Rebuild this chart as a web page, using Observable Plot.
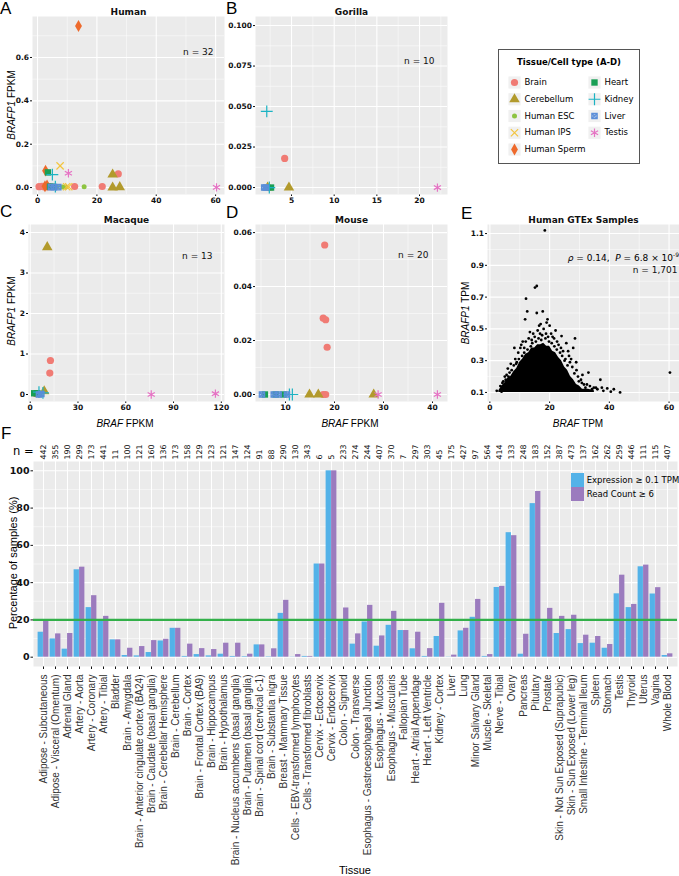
<!DOCTYPE html>
<html><head><meta charset="utf-8">
<script src="https://cdn.jsdelivr.net/npm/d3@7"></script>
<script src="https://cdn.jsdelivr.net/npm/@observablehq/plot@0.6"></script>
<style>
body{margin:0;background:#fff;}
#fig{position:relative;width:679px;height:876px;overflow:hidden;font-family:"DejaVu Sans",sans-serif;color:#000;}
.abs{position:absolute;white-space:nowrap;line-height:1;}
.letter{font-family:"Liberation Sans",Arial,sans-serif;font-size:17px;}
.ytitle{transform:translate(-50%,-50%) rotate(-90deg);font-family:"Liberation Sans",Arial,sans-serif;font-size:10px;}
.xtitle{transform:translate(-50%,-50%);font-family:"Liberation Sans",Arial,sans-serif;font-size:10px;}
.leg{position:absolute;left:498px;top:49px;width:142px;height:115px;border:1px solid #555;box-sizing:border-box;background:#fff;}
</style></head><body><div id="fig"></div>
<script>
// ---------------- Panels A-D ----------------
const tissueTypes = ["Brain","Cerebellum","Human ESC","Human IPS","Human Sperm","Heart","Kidney","Liver","Testis"];
const typeColors  = ["#F07B74","#B29A2C","#8DC441","#F3C53F","#EE6A2C","#199F55","#1BB3C3","#5B8ED8","#E673C4"];

const humanPoints = [
 ["Brain",0.5,0.004],["Brain",1.5,0.006],["Brain",2.2,0.003],["Brain",3.0,0.008],["Brain",4.0,0.004],["Brain",12.5,0.005],["Brain",21.8,0.005],["Brain",27.2,0.063],
 ["Cerebellum",25.3,0.06],["Cerebellum",25.3,0.0],["Cerebellum",27.7,0.002],
 ["Human ESC",6.5,0.003],["Human ESC",8.5,0.003],["Human ESC",9.5,0.003],["Human ESC",15.7,0.004],
 ["Human IPS",7.6,0.10],["Human IPS",9.8,0.004],["Human IPS",10.5,0.004],
 ["Human Sperm",13.8,0.745],["Human Sperm",2.7,0.078],["Human Sperm",2.5,0.006],["Human Sperm",3.2,0.010],
 ["Heart",3.5,0.07],["Heart",4.2,0.004],["Heart",5.2,0.004],
 ["Kidney",5.0,0.06],["Kidney",6.0,0.004],
 ["Liver",4.5,0.002],["Liver",5.5,0.002],["Liver",7.0,0.002],
 ["Testis",10.4,0.066],["Testis",60.3,0.001]
];
const gorillaPoints = [
 ["Kidney",2.1,0.047],["Brain",4.2,0.018],["Brain",2.3,0.0],["Cerebellum",4.7,0.0],["Cerebellum",2.2,0.0],
 ["Liver",1.8,0.0],["Liver",2.0,0.0],["Kidney",2.4,0.0],["Heart",2.6,0.0],["Testis",22.1,0.0]
];
const macaquePoints = [
 ["Cerebellum",10.7,3.64],["Brain",12.7,0.84],["Brain",12.3,0.53],["Brain",3.5,0.02],
 ["Cerebellum",8.8,0.08],["Heart",2.5,0.03],["Heart",4.5,0.03],["Kidney",5.5,0.06],["Kidney",8.0,0.04],
 ["Liver",5.5,0.0],["Liver",7.0,0.01],["Testis",76.0,0.0],["Testis",116.3,0.02]
];
const mousePoints = [
 ["Brain",18.0,0.0554],["Brain",17.7,0.0283],["Brain",18.2,0.0277],["Brain",18.5,0.0175],
 ["Brain",17.7,0.0],["Brain",18.2,0.0],
 ["Liver",5.2,0.0],["Liver",7.6,0.0],["Liver",8.6,0.0],["Liver",10.3,0.0],
 ["Heart",5.8,0.0],["Heart",8.0,0.0],["Heart",9.6,0.0],
 ["Kidney",10.8,0.0],["Kidney",11.4,0.0],
 ["Cerebellum",14.9,0.0],["Cerebellum",16.7,0.0],["Cerebellum",28.0,0.0],
 ["Testis",28.9,0.0],["Testis",41.0,0.0]
];

// ---------------- Panel E (GTEx) ----------------
const eCoreX   = [3,4,5,6,7,8,9,10,11,12,13,14,15,16,17,18,19,20,21,22,23,24,25,26,27,28,29,30,31,33,35];
const eCoreTop = [0.11,0.14,0.16,0.19,0.20,0.23,0.25,0.29,0.31,0.34,0.35,0.38,0.38,0.40,0.40,0.41,0.39,0.39,0.36,0.35,0.32,0.30,0.26,0.24,0.20,0.18,0.15,0.14,0.12,0.12,0.11];
const eDots = [
 [18.4,1.12],[15.7,0.77],[15.1,0.76],[12.1,0.69],[12.5,0.61],[11.8,0.56],[15.7,0.60],[17.7,0.61],[19.3,0.56],[19.0,0.54],
 [17.0,0.53],[16.5,0.52],[22.0,0.49],[13.4,0.48],[8.2,0.38],[10.2,0.38],[24.0,0.455],[25.6,0.41],[28.5,0.44],[27.9,0.38],
 [27.2,0.31],[28.9,0.29],[33.0,0.225],[37.0,0.18],[34.8,0.13],[32.0,0.13],[39.3,0.125],[43.6,0.10],[60.3,0.225],[2.3,0.11],
 [3.9,0.105],[5.6,0.21],[6.6,0.225],[14.5,0.47],[16.0,0.49],[18.0,0.50],[20.5,0.47],[21.5,0.44],[11.0,0.42],[9.5,0.35],
 [7.0,0.28],[6.0,0.25],[5.0,0.20],[4.5,0.17],[3.5,0.14],[26.5,0.33],[29.5,0.20],[30.5,0.18],[31.5,0.15],[33.5,0.14],
 [36.0,0.12],[38.0,0.11],[40.5,0.105],[13.0,0.44],[15.0,0.45],[17.5,0.46],[19.5,0.45],[23.0,0.40],[24.5,0.36],[10.5,0.40],
 [12.0,0.42],[20.0,0.52],[22.5,0.42],[25.0,0.30],[26.0,0.27],[8.5,0.31],[9.0,0.29],[29.0,0.24],[31.0,0.21],
 [4.2,0.16],[5.3,0.18],[6.2,0.20],[7.3,0.24],[8.0,0.27],[8.8,0.28],[9.7,0.31],[10.8,0.33],[11.5,0.35],[12.6,0.37],
 [13.7,0.39],[14.2,0.41],[15.4,0.42],[16.3,0.44],[17.2,0.43],[18.6,0.44],[19.8,0.42],[20.7,0.41],[21.6,0.39],[22.4,0.37],
 [23.5,0.35],[24.2,0.33],[25.3,0.31],[26.8,0.29],[27.6,0.26],[28.3,0.22],[29.8,0.17],[30.8,0.16],[32.5,0.15],[34.2,0.12],
 [35.5,0.13],[37.5,0.13],[41.5,0.12],[16.8,0.47],[18.8,0.47],[14.0,0.43],[21.0,0.45],[11.5,0.38],[23.8,0.38],[26.2,0.36]
];

// ---------------- Panel F (GTEx tissues) ----------------
const tissues = ["Adipose - Subcutaneous","Adipose - Visceral (Omentum)","Adrenal Gland","Artery - Aorta","Artery - Coronary","Artery - Tibial","Bladder",
 "Brain - Amygdala","Brain - Anterior cingulate cortex (BA24)","Brain - Caudate (basal ganglia)","Brain - Cerebellar Hemisphere","Brain - Cerebellum","Brain - Cortex",
 "Brain - Frontal Cortex (BA9)","Brain - Hippocampus","Brain - Hypothalamus","Brain - Nucleus accumbens (basal ganglia)","Brain - Putamen (basal ganglia)",
 "Brain - Spinal cord (cervical c-1)","Brain - Substantia nigra","Breast - Mammary Tissue","Cells - EBV-transformed lymphocytes","Cells - Transformed fibroblasts",
 "Cervix - Ectocervix","Cervix - Endocervix","Colon - Sigmoid","Colon - Transverse","Esophagus - Gastroesophageal Junction","Esophagus - Mucosa","Esophagus - Muscularis",
 "Fallopian Tube","Heart - Atrial Appendage","Heart - Left Ventricle","Kidney - Cortex","Liver","Lung","Minor Salivary Gland","Muscle - Skeletal","Nerve - Tibial",
 "Ovary","Pancreas","Pituitary","Prostate","Skin - Not Sun Exposed (Suprapubic)","Skin - Sun Exposed (Lower leg)","Small Intestine - Terminal Ileum","Spleen",
 "Stomach","Testis","Thyroid","Uterus","Vagina","Whole Blood"];
const nSamples = [442,355,190,299,173,441,11,100,121,160,136,173,158,129,123,121,147,124,91,88,290,130,343,6,5,233,274,244,407,370,7,297,303,45,175,427,97,564,414,133,248,183,152,387,473,137,162,262,259,446,111,115,407];
const exprPct = [13.4,9.8,4.3,46.9,26.6,20.1,9.3,0.9,0.7,2.5,8.7,15.5,0.4,1.4,0.7,1.6,0.4,0.3,6.6,0.2,23.5,0.1,0.4,50.0,100,20.0,7.0,18.9,5.9,17.1,14.3,4.5,0.4,11.1,0.1,14.1,21.4,0.4,37.4,66.8,1.6,82.4,20.0,12.7,14.8,7.3,7.5,4.8,34.0,26.6,48.5,33.9,0.9];
const readPct = [20.1,12.5,12.7,48.3,33.0,21.9,9.3,4.8,5.7,8.9,9.6,15.5,7.0,4.6,4.1,7.5,7.5,1.6,6.6,4.5,30.5,1.4,0.4,50.0,100,26.4,12.5,27.8,11.4,24.6,14.3,13.4,4.6,28.9,1.1,15.5,31.0,1.4,38.0,65.2,12.3,88.9,26.2,21.9,22.5,11.8,11.1,6.8,44.0,28.3,49.4,37.3,1.8];

// ---------------- helpers ----------------
const squareX = {draw(ctx, size){ const s = Math.sqrt(size)*0.42; ctx.moveTo(-s,-s); ctx.lineTo(s,-s); ctx.lineTo(s,s); ctx.lineTo(-s,s); ctx.closePath(); ctx.moveTo(-s,-s); ctx.lineTo(s,s); ctx.moveTo(s,-s); ctx.lineTo(-s,s);} };
const shapes = {
 "Brain":{symbol:"circle",r:3.6,filled:true},
 "Cerebellum":{symbol:"triangle",r:3.9,filled:true},
 "Human ESC":{symbol:"circle",r:2.5,filled:true},
 "Human IPS":{symbol:"times",r:3.4,filled:false},
 "Human Sperm":{symbol:"diamond",r:3.6,filled:true},
 "Heart":{symbol:"square",r:3.6,filled:true},
 "Kidney":{symbol:"plus",r:3.9,filled:false},
 "Liver":{symbol:squareX,r:3.6,filled:false,fillOpacity:0.55},
 "Testis":{symbol:"asterisk",r:3.9,filled:false}
};
function dotOpts(t, i, extra) {
  const s = shapes[t];
  const base = {symbol: s.symbol, r: s.r};
  if (s.filled) return {...base, fill: typeColors[i], stroke: "none", ...extra};
  return {...base, stroke: typeColors[i], strokeWidth: 1.2, fill: s.fillOpacity ? typeColors[i] : "none", fillOpacity: s.fillOpacity || 1, ...extra};
}
const fig = document.getElementById("fig");
function place(el, left, top) { el.style.position = "absolute"; el.style.left = left + "px"; el.style.top = top + "px"; fig.appendChild(el); return el; }
function html(h, cls, left, top, extraStyle) { const d = document.createElement("div"); d.className = "abs " + (cls||""); d.innerHTML = h; d.style.left = left+"px"; d.style.top = top+"px"; if (extraStyle) d.style.cssText += extraStyle; fig.appendChild(d); return d; }
const axStyle = {background:"transparent", fontFamily:"DejaVu Sans", fontSize:"7.5px", fontWeight:"bold", color:"#111", overflow:"visible"};

function scatter(o) {
  const rows = o.points.map(([type,x,y]) => ({type,x,y}));
  const marks = [
    Plot.frame({fill:"#EBEBEB", stroke:null}),
    Plot.ruleX(o.xMinor, {stroke:"white", strokeWidth:0.5}),
    Plot.ruleY(o.yMinor, {stroke:"white", strokeWidth:0.5}),
    Plot.ruleX(o.xTicks, {stroke:"white", strokeWidth:1.1}),
    Plot.ruleY(o.yTicks, {stroke:"white", strokeWidth:1.1})
  ];
  tissueTypes.forEach((t,i) => {
    const sub = rows.filter(d => d.type === t);
    if (sub.length) marks.push(Plot.dot(sub, dotOpts(t, i, {x:"x", y:"y"})));
  });
  marks.push(Plot.text([o.title], {text:d=>d, frameAnchor:"top", lineAnchor:"bottom", dy:-2, fontWeight:"bold", fontSize:9}));
  if (o.note) marks.push(Plot.text([o.note], {text:d=>d, frameAnchor:"top-right", textAnchor:"end", lineAnchor:"middle", dx:o.noteDx, dy:o.noteDy, fontSize:9, fontWeight:"normal"}));
  return Plot.plot({
    width:o.width, height:o.height, marginLeft:o.ml, marginRight:o.mr, marginTop:o.mt, marginBottom:o.mb,
    style: axStyle,
    x:{domain:o.xDomain, ticks:o.xTicks, tickFormat:o.xFormat, tickSize:2, tickPadding:1.5, label:null},
    y:{domain:o.yDomain, ticks:o.yTicks, tickFormat:o.yFormat, tickSize:2, tickPadding:1.5, label:null},
    marks
  });
}

// A
place(scatter({points:humanPoints, title:"Human", note:"n = 32", noteDx:-11, noteDy:36,
  xDomain:[-1.7,63.0], yDomain:[-0.032,0.789], xTicks:[0,20,40,60], xMinor:[10,30,50], yTicks:[0,0.2,0.4,0.6], yMinor:[0.1,0.3,0.5,0.7],
  xFormat:"d", yFormat:".1f", width:226, height:210, ml:32, mr:2, mt:16, mb:16}), 0, 0);
// B
place(scatter({points:gorillaPoints, title:"Gorilla", note:"n = 10", noteDx:-13, noteDy:45,
  xDomain:[0.78,23.28], yDomain:[-0.0043,0.1056], xTicks:[5,10,15,20], xMinor:[2.5,7.5,12.5,17.5,22.5], yTicks:[0,0.025,0.05,0.075,0.1], yMinor:[0.0125,0.0375,0.0625,0.0875],
  xFormat:"d", yFormat:".3f", width:223, height:210, ml:29, mr:2, mt:16, mb:16}), 226, 0);
// C
place(scatter({points:macaquePoints, title:"Macaque", note:"n = 13", noteDx:-12, noteDy:32,
  xDomain:[-1.07,122.0], yDomain:[-0.173,4.198], xTicks:[0,30,60,90,120], xMinor:[15,45,75,105], yTicks:[0,1,2,3,4], yMinor:[0.5,1.5,2.5,3.5],
  xFormat:"d", yFormat:"d", width:226, height:210, ml:28, mr:2, mt:19, mb:14}), 0, 205);
// D
place(scatter({points:mousePoints, title:"Mouse", note:"n = 20", noteDx:-19, noteDy:31,
  xDomain:[3.88,43.06], yDomain:[-0.0026,0.063], xTicks:[10,20,30,40], xMinor:[5,15,25,35], yTicks:[0,0.02,0.04,0.06], yMinor:[0.01,0.03,0.05],
  xFormat:"d", yFormat:".2f", width:223, height:210, ml:29, mr:2, mt:19, mb:14}), 226, 205);

// E
{
  const core = eCoreX.map((x,i) => ({x, top:eCoreTop[i]}));
  const dots = eDots.map(([x,y]) => ({x,y}));
  const e = Plot.plot({
    width:224, height:210, marginLeft:32, marginRight:0, marginTop:19, marginBottom:14,
    style: axStyle,
    x:{domain:[-0.8,63.5], ticks:[0,20,40,60], tickFormat:"d", tickSize:2, tickPadding:1.5, label:null},
    y:{domain:[0.043,1.157], ticks:[0.1,0.3,0.5,0.7,0.9,1.1], tickFormat:".1f", tickSize:2, tickPadding:1.5, label:null},
    marks:[
      Plot.frame({fill:"#EBEBEB", stroke:null}),
      Plot.ruleX([10,30,50], {stroke:"white", strokeWidth:0.5}),
      Plot.ruleY([0.2,0.4,0.6,0.8,1.0], {stroke:"white", strokeWidth:0.5}),
      Plot.ruleX([0,20,40,60], {stroke:"white", strokeWidth:1.1}),
      Plot.ruleY([0.1,0.3,0.5,0.7,0.9,1.1], {stroke:"white", strokeWidth:1.1}),
      Plot.areaY(core, {x:"x", y1:0.1, y2:"top", fill:"black"}),
      Plot.dot(dots, {x:"x", y:"y", r:1.4, fill:"black"}),
      Plot.text(["Human GTEx Samples"], {text:d=>d, frameAnchor:"top", lineAnchor:"bottom", dy:-2, fontWeight:"bold", fontSize:9}),
      Plot.text(["n = 1,701"], {text:d=>d, frameAnchor:"top-right", textAnchor:"end", lineAnchor:"middle", dx:-2, dy:46, fontSize:9, fontWeight:"normal"})
    ]
  });
  place(e, 455, 205);
}
html('<i>ρ</i> = 0.14, &nbsp;<i>P</i> = 6.8 × 10<sup style="font-size:6px">-9</sup>', "", 0, 252, "right:0px;left:auto;font-size:9px;");

// Legend (A-D)
{
  const leg = document.createElement("div"); leg.className = "leg"; fig.appendChild(leg);
  const t = document.createElement("div"); t.className = "abs"; t.style.cssText = "left:0;right:0;top:8px;text-align:center;font-weight:bold;font-size:8.5px;";
  t.textContent = "Tissue/Cell type (A-D)"; leg.appendChild(t);
  const legRows = tissueTypes.map((t,i) => ({t, col: i < 5 ? 0 : 1, row: i < 5 ? i : i - 5}));
  const marks = [Plot.dot(legRows, {x:"col", y:"row", symbol:"square", r:6.9, fill:"#F0F0F0"})];
  tissueTypes.forEach((t,i) => marks.push(Plot.dot(legRows.filter(d=>d.t===t), dotOpts(t, i, {x:"col", y:"row"}))));
  marks.push(Plot.text(legRows, {x:"col", y:"row", text:"t", dx:10, textAnchor:"start", fontSize:8.5}));
  const lp = Plot.plot({width:140, height:113, marginLeft:15, marginRight:45, marginTop:32, marginBottom:14,
    x:{domain:[0,1], axis:null}, y:{domain:[4,0], axis:null}, style:{background:"transparent", fontFamily:"DejaVu Sans", overflow:"visible", color:"#000"}, marks});
  lp.style.position = "absolute"; lp.style.left = "0px"; lp.style.top = "0px"; leg.appendChild(lp);
}

// F
{
  const rows = tissues.map((t,i) => ({tissue:t, n:nSamples[i], expr:exprPct[i], read:readPct[i]}));
  const fW = 679, fH = 451, fML = 33, fMR = 2, fMT = 36, fMB = 210;
  const step = (fW - fML - fMR) / tissues.length;
  const f = Plot.plot({
    width:fW, height:fH, marginLeft:fML, marginRight:fMR, marginTop:fMT, marginBottom:fMB,
    style:{...axStyle, fontSize:"9.5px"},
    x:{domain:tissues, padding:0, tickSize:3, tickFormat:() => "", label:null},
    y:{domain:[-5,105], ticks:[0,20,40,60,80,100], tickSize:2.5, tickPadding:1.5, label:null},
    marks:[
      Plot.frame({fill:"#EBEBEB", stroke:null}),
      Plot.ruleY([10,30,50,70,90], {stroke:"white", strokeWidth:0.5}),
      Plot.ruleY([0,20,40,60,80,100], {stroke:"white", strokeWidth:1.1}),
      Plot.ruleX(rows, {x:"tissue", stroke:"white", strokeWidth:1.1}),
      Plot.barY(rows, {x:"tissue", y1:0, y2:"expr", fill:"#53B2E8", insetLeft:step*0.05, insetRight:step*0.5}),
      Plot.barY(rows, {x:"tissue", y1:0, y2:"read", fill:"#9B7BBE", insetLeft:step*0.5, insetRight:step*0.05}),
      Plot.ruleY([20], {stroke:"#33B04A", strokeWidth:2.4}),
      Plot.text(rows, {x:"tissue", text:d=>String(d.n), frameAnchor:"top", dy:-2, rotate:-90, textAnchor:"start", lineAnchor:"middle", fontSize:7.8, fontWeight:"normal"}),
      Plot.text(rows, {x:"tissue", text:"tissue", frameAnchor:"bottom", dy:8, rotate:-90, textAnchor:"end", lineAnchor:"middle", fontSize:10, fontWeight:"normal", fontFamily:"Liberation Sans", fill:"#333"})
    ]
  });
  place(f, 0, 425);
  // legend F
  html('<span style="display:inline-block;width:13px;height:14px;background:#53B2E8;vertical-align:middle"></span> Expression ≥ 0.1 TPM', "", 571, 473, "font-size:8.5px;");
  html('<span style="display:inline-block;width:13px;height:14px;background:#9B7BBE;vertical-align:middle"></span> Read Count ≥ 6', "", 571, 487, "font-size:8.5px;");
}

// Letters, titles
html("A","letter",0,0); html("B","letter",226,0); html("C","letter",0,203); html("D","letter",226,204); html("E","letter",461,205); html("F","letter",1,425);
html("<i>BRAFP1</i> FPKM","ytitle",12,105); html("<i>BRAFP1</i> FPKM","ytitle",12,311); html("<i>BRAFP1</i> TPM","ytitle",466,313);
html("<i>BRAF</i> FPKM","xtitle",125,424); html("<i>BRAF</i> FPKM","xtitle",350,424); html("<i>BRAF</i> TPM","xtitle",578,424);
html("Percentage of samples (%)","ytitle",13,563,"font-size:11px;");
html("Tissue","xtitle",355,870,"font-size:11px;");
html("n =","",13,446,"font-size:11.5px;");
</script></body></html>
